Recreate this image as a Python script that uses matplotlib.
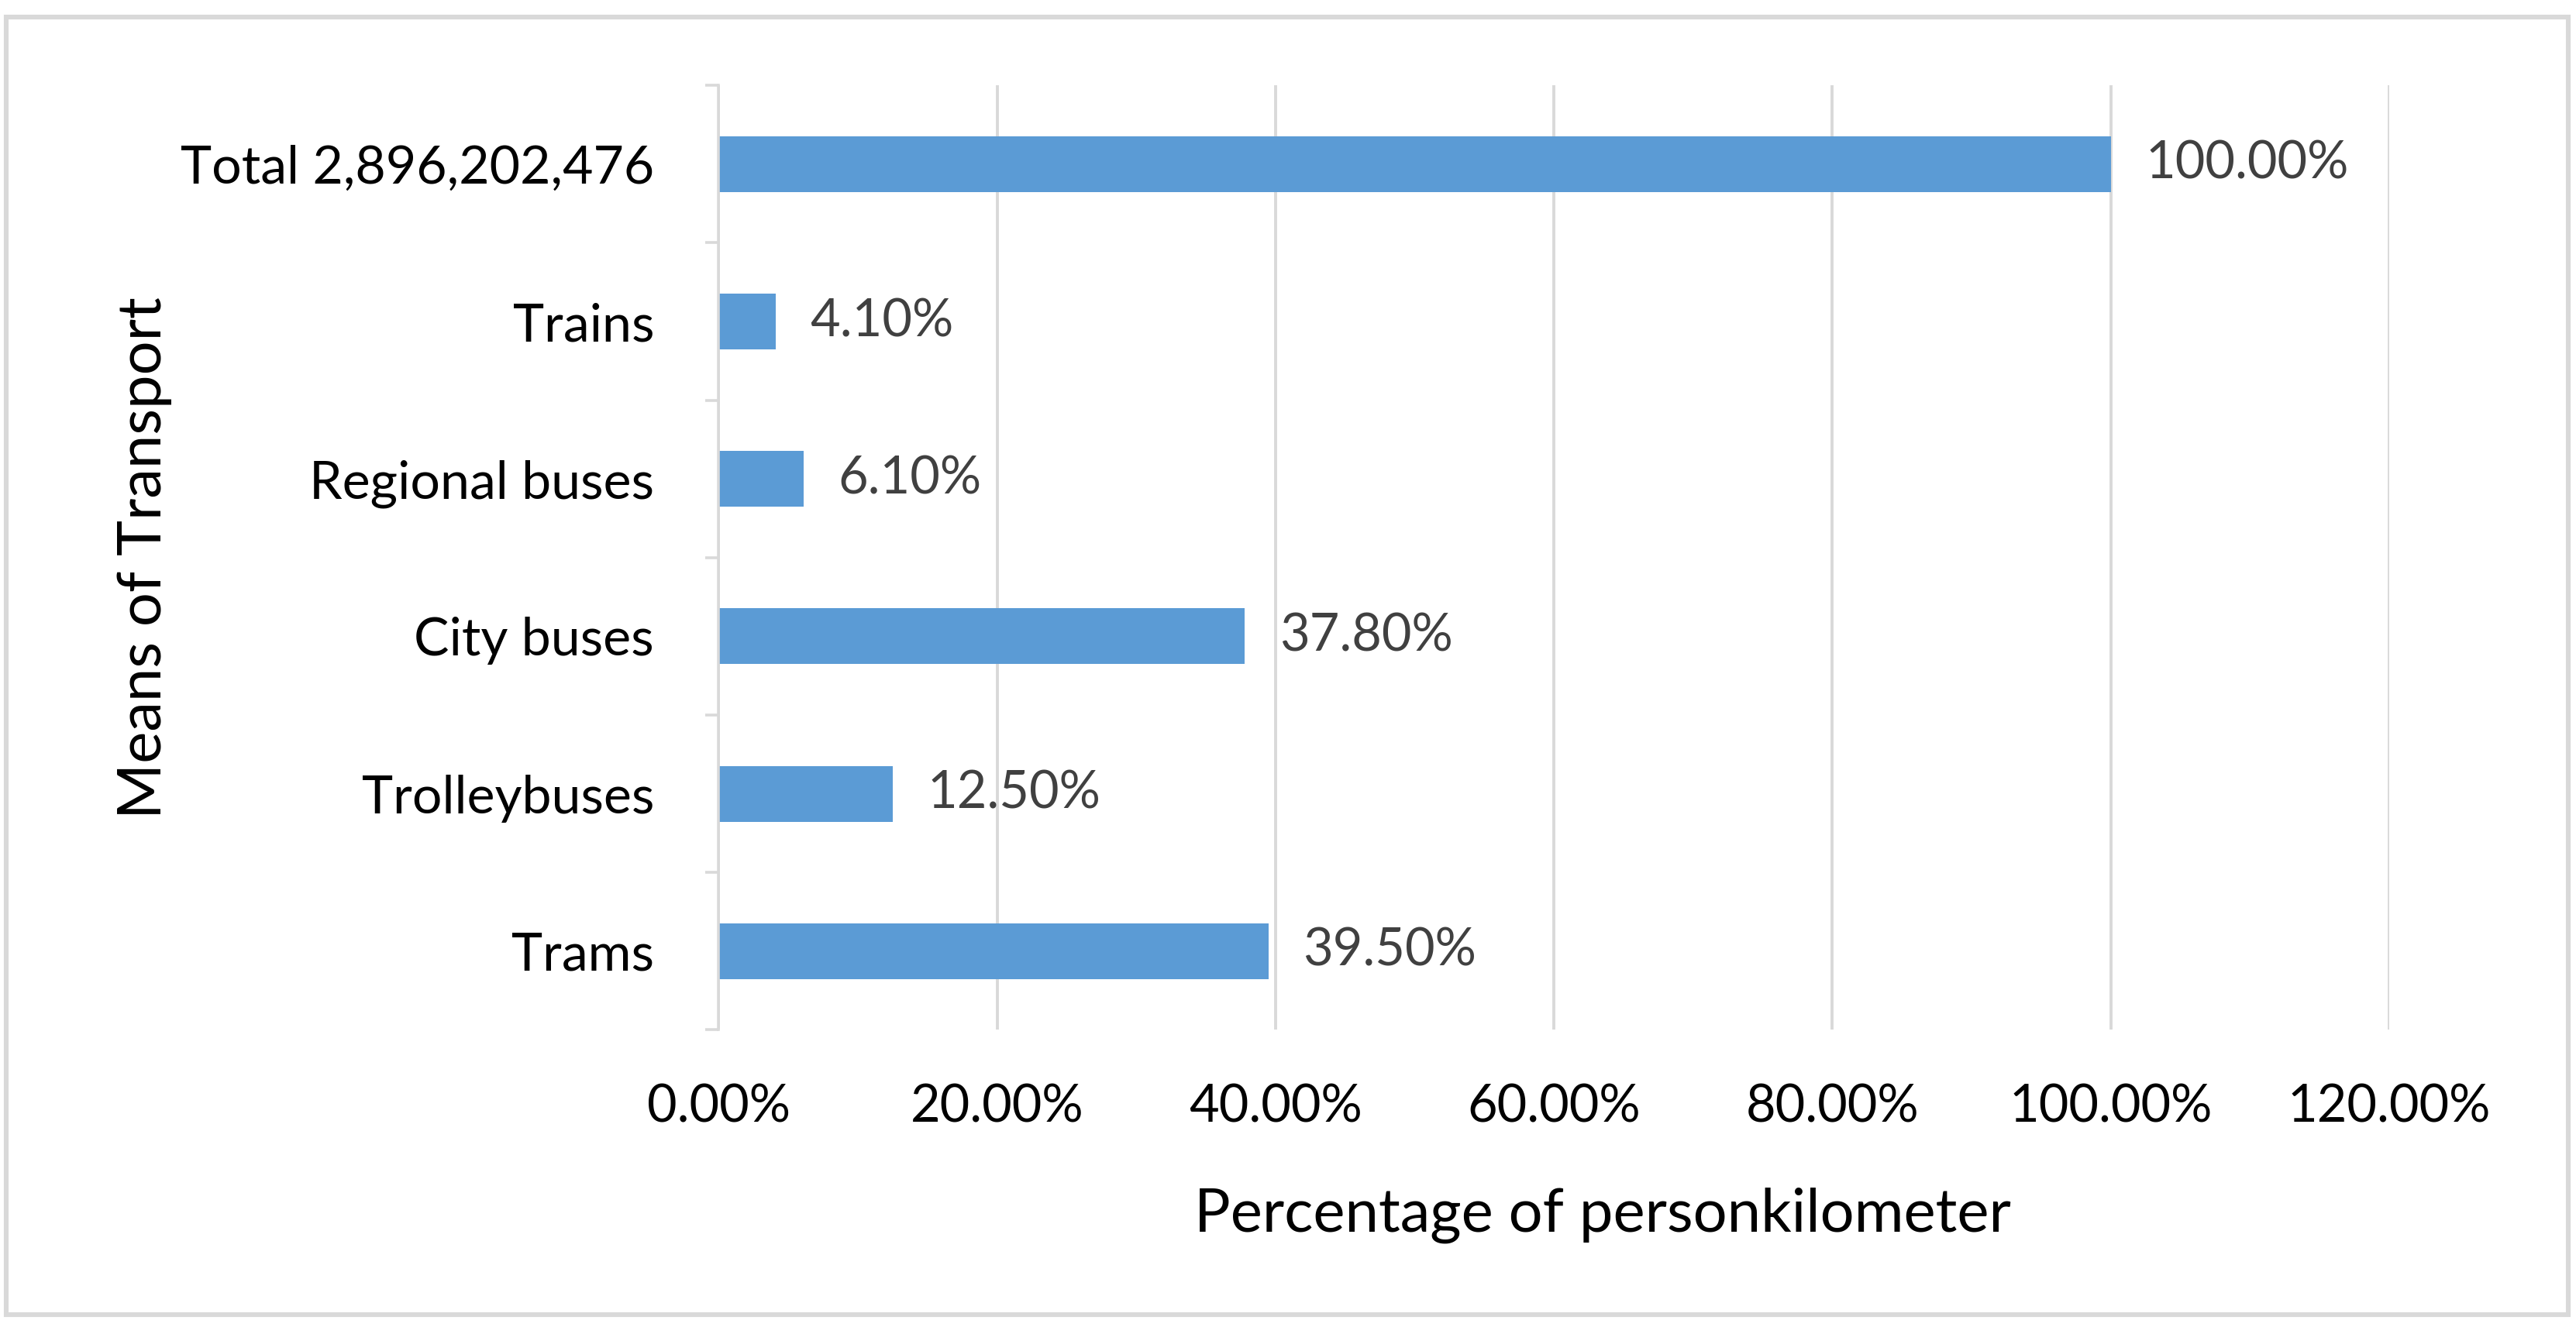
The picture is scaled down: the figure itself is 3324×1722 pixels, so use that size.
import matplotlib.pyplot as plt
from matplotlib.patches import Rectangle
from matplotlib.ticker import FixedLocator

# 数据：交通方式与人公里占比（%）
categories = ['Trams', 'Trolleybuses', 'City buses', 'Regional buses', 'Trains', 'Total 2,896,202,476']
shares = [39.5, 12.5, 37.8, 6.1, 4.1, 100.0]
x_ticks = [0, 20, 40, 60, 80, 100, 120]

BAR_COLOR = '#5B9BD5'
GRID_COLOR = '#D9D9D9'
LABEL_COLOR = '#404040'

plt.rcParams['font.family'] = ['Lato', 'DejaVu Sans']

fig = plt.figure(figsize=(16.62, 8.61), dpi=200)
ax = fig.add_axes([0.279, 0.228, 0.6485, 0.708])

y_pos = list(range(len(categories)))
bars = ax.barh(y_pos, shares, height=0.355, color=BAR_COLOR, zorder=3)

# 数值标签
for bar, v in zip(bars, shares):
    ax.annotate(f'{v:.2f}%', xy=(bar.get_width(), bar.get_y() + bar.get_height() / 2),
                xytext=(16, 0), textcoords='offset points', ha='left', va='center',
                fontsize=24, color=LABEL_COLOR)

ax.set_xlim(0, 120)
ax.set_ylim(-0.5, len(categories) - 0.5)
ax.set_xticks(x_ticks)
ax.set_xticklabels([f'{t:.2f}%' for t in x_ticks])
ax.set_yticks(y_pos)
ax.set_yticklabels(categories)
ax.yaxis.set_minor_locator(FixedLocator([i - 0.5 for i in range(len(categories) + 1)]))

ax.tick_params(axis='x', length=0, pad=25, labelsize=24, labelcolor='black')
ax.tick_params(axis='y', which='major', length=0, pad=30, labelsize=24.5, labelcolor='black')
ax.tick_params(axis='y', which='minor', length=6, width=1.3, color=GRID_COLOR, direction='out')

ax.grid(axis='x', color=GRID_COLOR, linewidth=1.4, zorder=0)
for s in ['top', 'right', 'bottom']:
    ax.spines[s].set_visible(False)
ax.spines['left'].set_color(GRID_COLOR)
ax.spines['left'].set_linewidth(1.3)
ax.spines['left'].set_zorder(4)

fig.text(0.622, 0.089, 'Percentage of personkilometer', ha='center', va='center', fontsize=28)
fig.text(0.056, 0.582, 'Means of Transport', ha='center', va='center', rotation=90, fontsize=28)

# 外边框
fig.patches.append(Rectangle((0.0024, 0.0145), 0.9946, 0.973, transform=fig.transFigure,
                             fill=False, edgecolor=GRID_COLOR, linewidth=2.2))

plt.savefig('out.png', dpi=200)
plt.close()
